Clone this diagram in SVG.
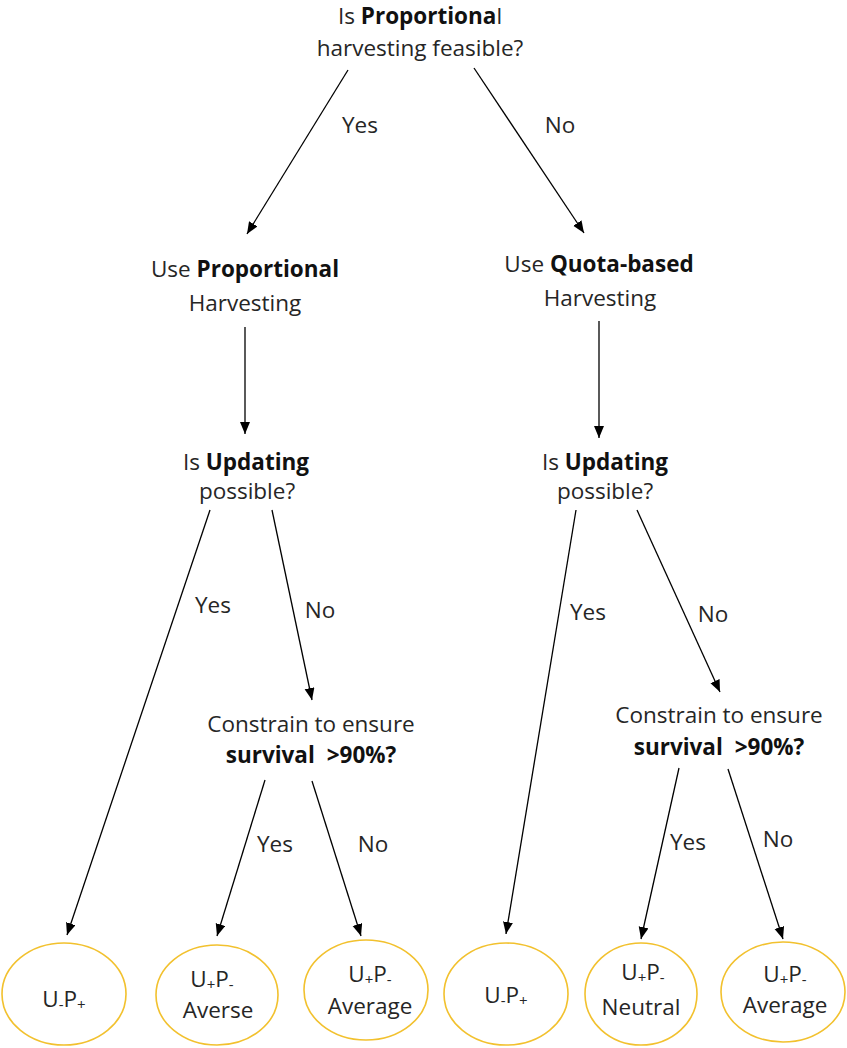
<svg xmlns="http://www.w3.org/2000/svg" width="847" height="1048" viewBox="0 0 847 1048">
<style>
text{font-family:"Open Sans","Liberation Sans",sans-serif;font-size:22.5px;fill:#262626;text-anchor:middle}
.b{font-weight:bold;fill:#111}
.sub{font-size:15px}
.conn line{stroke:#000;stroke-width:1.3;marker-end:url(#ah)}
.leaf{fill:#fff;stroke:#F2C12E;stroke-width:1.6}
</style>
<defs>
<marker id="ah" markerUnits="userSpaceOnUse" markerWidth="14" markerHeight="12" refX="12" refY="5" orient="auto">
<path d="M0,0 L12,5 L0,10 Z" fill="#000"/>
</marker>
</defs>
<rect width="847" height="1048" fill="#fff"/>
<g class="conn" id="connectors">
<line x1="348" y1="70" x2="247" y2="234"/>
<line x1="474" y1="68" x2="584" y2="233"/>
<line x1="245" y1="327" x2="245" y2="434"/>
<line x1="599" y1="321" x2="599" y2="438"/>
<line x1="210" y1="510" x2="67" y2="935"/>
<line x1="272" y1="510" x2="312" y2="700"/>
<line x1="576" y1="510" x2="506" y2="934"/>
<line x1="637" y1="510" x2="720" y2="692"/>
<line x1="265" y1="780" x2="217" y2="936"/>
<line x1="312" y1="781" x2="361" y2="936"/>
<line x1="679" y1="768" x2="641" y2="939"/>
<line x1="728" y1="769" x2="783" y2="939"/>
</g>
<g id="q1">
<text x="420" y="24">Is <tspan class="b">Proportiona</tspan>l</text>
<text x="420" y="56">harvesting feasible?</text>
</g>
<g id="edge-labels">
<text x="360" y="133">Yes</text>
<text x="560" y="133">No</text>
<text x="213" y="613">Yes</text>
<text x="320" y="618">No</text>
<text x="588" y="620">Yes</text>
<text x="713" y="622">No</text>
<text x="275" y="852">Yes</text>
<text x="373" y="852">No</text>
<text x="688" y="850">Yes</text>
<text x="778" y="847">No</text>
</g>
<g id="prop">
<text x="245" y="277">Use <tspan class="b">Proportional</tspan></text>
<text x="245" y="311">Harvesting</text>
</g>
<g id="quota">
<text x="599" y="272">Use <tspan class="b">Quota-based</tspan></text>
<text x="600" y="306">Harvesting</text>
</g>
<g id="upd1">
<text x="246" y="470">Is <tspan class="b">Updating</tspan></text>
<text x="247" y="499">possible?</text>
</g>
<g id="upd2">
<text x="605" y="470">Is <tspan class="b">Updating</tspan></text>
<text x="605" y="499">possible?</text>
</g>
<g id="con1">
<text x="311" y="732">Constrain to ensure</text>
<text x="311" y="763"><tspan class="b">survival</tspan> <tspan class="b" dx="6">&gt;90%?</tspan></text>
</g>
<g id="con2">
<text x="719" y="723">Constrain to ensure</text>
<text x="719" y="755"><tspan class="b">survival</tspan> <tspan class="b" dx="6">&gt;90%?</tspan></text>
</g>
<g id="leaf1">
<ellipse class="leaf" cx="64" cy="994" rx="62" ry="51"/>
<text x="64" y="1007">U<tspan class="sub" dy="3">-</tspan><tspan dy="-3">P</tspan><tspan class="sub" dy="3">+</tspan></text>
</g>
<g id="leaf2">
<ellipse class="leaf" cx="217" cy="995" rx="61" ry="50"/>
<text x="212" y="987">U<tspan class="sub" dy="3">+</tspan><tspan dy="-3">P</tspan><tspan class="sub" dy="3">-</tspan></text>
<text x="218" y="1018">Averse</text>
</g>
<g id="leaf3">
<ellipse class="leaf" cx="366" cy="990" rx="62" ry="50"/>
<text x="370" y="982">U<tspan class="sub" dy="3">+</tspan><tspan dy="-3">P</tspan><tspan class="sub" dy="3">-</tspan></text>
<text x="370" y="1014">Average</text>
</g>
<g id="leaf4">
<ellipse class="leaf" cx="506" cy="994" rx="62" ry="51"/>
<text x="506" y="1003">U<tspan class="sub" dy="3">-</tspan><tspan dy="-3">P</tspan><tspan class="sub" dy="3">+</tspan></text>
</g>
<g id="leaf5">
<ellipse class="leaf" cx="641" cy="994" rx="56" ry="51"/>
<text x="643" y="980">U<tspan class="sub" dy="3">+</tspan><tspan dy="-3">P</tspan><tspan class="sub" dy="3">-</tspan></text>
<text x="641" y="1015">Neutral</text>
</g>
<g id="leaf6">
<ellipse class="leaf" cx="783" cy="992" rx="62" ry="50"/>
<text x="785" y="982">U<tspan class="sub" dy="3">+</tspan><tspan dy="-3">P</tspan><tspan class="sub" dy="3">-</tspan></text>
<text x="785" y="1013">Average</text>
</g>
</svg>
